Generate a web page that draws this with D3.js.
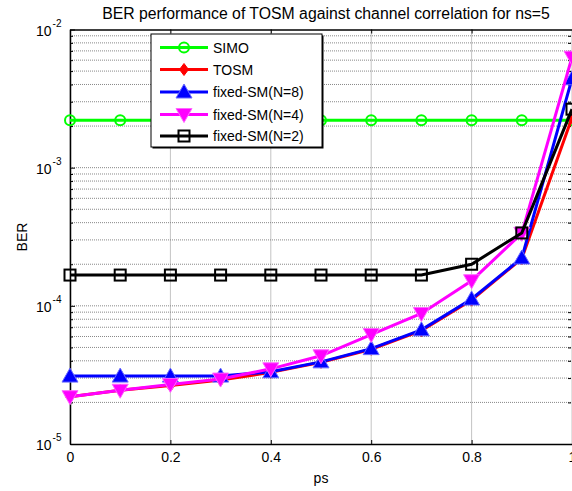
<!DOCTYPE html>
<html><head><meta charset="utf-8">
<script src="https://cdn.jsdelivr.net/npm/d3@7"></script>
<style>body{margin:0;background:#fff}svg{display:block;font-family:"Liberation Sans",Arial,sans-serif}</style>
</head><body><svg id="c" width="572" height="491"></svg>
<script>
const ps = [0,0.1,0.2,0.3,0.4,0.5,0.6,0.7,0.8,0.9,1.0];
const simo = [2.2e-3,2.2e-3,2.2e-3,2.2e-3,2.2e-3,2.2e-3,2.2e-3,2.2e-3,2.2e-3,2.2e-3,2.2e-3];
const tosm = [2.2e-5,2.45e-5,2.65e-5,2.9e-5,3.3e-5,3.9e-5,4.85e-5,6.6e-5,1.1e-4,2.2e-4,2.3e-3];
const fixedN8 = [3.1e-5,3.1e-5,3.1e-5,3.1e-5,3.33e-5,3.93e-5,4.9e-5,6.7e-5,1.12e-4,2.22e-4,4.4e-3];
const fixedN4 = [2.2e-5,2.45e-5,2.7e-5,2.95e-5,3.5e-5,4.35e-5,6.2e-5,8.8e-5,1.52e-4,3.35e-4,6.3e-3];
const fixedN2 = [1.67e-4,1.67e-4,1.67e-4,1.67e-4,1.67e-4,1.67e-4,1.67e-4,1.67e-4,2.0e-4,3.37e-4,2.65e-3];
const xTicks = [0,0.2,0.4,0.6,0.8,1];
const xTickLabels = ["0","0.2","0.4","0.6","0.8","1"];
const yExps = [-2,-3,-4,-5];
const seriesNames = ["SIMO","TOSM","fixed-SM(N=8)","fixed-SM(N=4)","fixed-SM(N=2)"];
const seriesData = [simo,tosm,fixedN8,fixedN4,fixedN2];
const seriesColors = ["#00ff00","#ff0000","#0000ff","#ff00ff","#000000"];
const seriesMarkers = ["circle","diamond","triangleUp","triangleDown","square"];

const L=70, R=572, T=29.5, B=444;
const svg = d3.select("#c");
const x = d3.scaleLinear().domain([0,1]).range([L,R]);
const y = d3.scaleLog().domain([1e-5,1e-2]).range([B,T]);

// grid
const g = svg.append("g");
xTicks.forEach(v=>{ g.append("line").attr("x1",x(v)).attr("x2",x(v)).attr("y1",T).attr("y2",B)
  .attr("stroke","#888").attr("stroke-width",1).attr("stroke-dasharray","1,1"); });
for(let e=-5;e<-2;e++){ for(let m=1;m<10;m++){ const v=m*Math.pow(10,e); if(m===1&&e===-5) continue;
  g.append("line").attr("x1",L).attr("x2",R).attr("y1",y(v)).attr("y2",y(v))
   .attr("stroke","#888").attr("stroke-width",1).attr("stroke-dasharray","1,1"); } }

// axes
const xAxis = d3.axisBottom(x).tickValues(xTicks).tickFormat((d,i)=>xTickLabels[i]).tickSizeInner(-4).tickSizeOuter(0).tickPadding(8);
const xg = svg.append("g").attr("transform",`translate(0,${B})`).call(xAxis);
xg.select(".domain").attr("stroke","#000").attr("stroke-width",1.5);
xg.selectAll("text").attr("font-size",14).attr("font-family","Liberation Sans, Arial").attr("fill","#000");
const xTop = d3.axisTop(x).tickValues(xTicks).tickFormat("").tickSizeInner(-4).tickSizeOuter(0);
const xtg = svg.append("g").attr("transform",`translate(0,${T})`).call(xTop);
xtg.select(".domain").attr("stroke","#000").attr("stroke-width",1.5);

const minorVals=[]; for(let e=-5;e<-2;e++) for(let m=2;m<10;m++) minorVals.push(m*Math.pow(10,e));
const yAxis = d3.axisLeft(y).tickValues(yExps.map(e=>Math.pow(10,e))).tickFormat("").tickSizeInner(-5).tickSizeOuter(0);
const yg = svg.append("g").attr("transform",`translate(${L},0)`).call(yAxis);
yg.select(".domain").attr("stroke","#000").attr("stroke-width",1.5);
svg.append("g").attr("transform",`translate(${L},0)`).call(d3.axisLeft(y).tickValues(minorVals).tickFormat("").tickSizeInner(-3).tickSizeOuter(0)).select(".domain").remove();
svg.append("g").attr("transform",`translate(${R-1},0)`).call(d3.axisRight(y).tickValues(minorVals).tickFormat("").tickSizeInner(-3).tickSizeOuter(0)).select(".domain").remove();

yExps.forEach(e=>{
  const t = svg.append("text").attr("x",L-34).attr("y",y(Math.pow(10,e))+6).attr("text-anchor","start")
    .attr("font-size",14).attr("fill","#000");
  t.append("tspan").text("10");
  t.append("tspan").attr("font-size",10).attr("dy",-9).attr("dx",1).text(String(e));
});

// titles
svg.append("text").attr("x",326).attr("y",19).attr("text-anchor","middle").attr("font-size",15.8).text("BER performance of TOSM against channel correlation for ns=5");
svg.append("text").attr("x",321).attr("y",483).attr("text-anchor","middle").attr("font-size",14).text("ps");
svg.append("text").attr("transform","translate(27,237) rotate(-90)").attr("text-anchor","middle").attr("font-size",14).text("BER");

// series
function drawMarker(sel, type, color, cx, cy){
  if(type==="circle") sel.append("circle").attr("cx",cx).attr("cy",cy).attr("r",5).attr("fill","none").attr("stroke",color).attr("stroke-width",2);
  else if(type==="square") sel.append("rect").attr("x",cx-5.5).attr("y",cy-5.5).attr("width",11).attr("height",11).attr("fill","none").attr("stroke",color).attr("stroke-width",2);
  else if(type==="diamond") sel.append("path").attr("d",`M${cx},${cy-6}L${cx+4.5},${cy}L${cx},${cy+6}L${cx-4.5},${cy}Z`).attr("fill",color).attr("stroke",color).attr("stroke-width",1);
  else if(type==="triangleUp") sel.append("path").attr("d",`M${cx},${cy-8}L${cx+8},${cy+6}L${cx-8},${cy+6}Z`).attr("fill",color).attr("stroke","#6a6aff").attr("stroke-width",1);
  else if(type==="triangleDown") sel.append("path").attr("d",`M${cx},${cy+8}L${cx+8},${cy-6}L${cx-8},${cy-6}Z`).attr("fill",color).attr("stroke","#ff66ff").attr("stroke-width",1);
}
const line = d3.line().x((d,i)=>x(ps[i])).y(d=>y(d));
seriesData.forEach((data,k)=>{
  const sg = svg.append("g");
  sg.append("path").datum(data).attr("d",line).attr("fill","none").attr("stroke",seriesColors[k]).attr("stroke-width",3);
  data.forEach((d,i)=>drawMarker(sg, seriesMarkers[k], seriesColors[k], x(ps[i]), y(d)));
});

// legend
const lg = svg.append("g");
const lx=151, ly=34, lw=171, lh=113;
lg.append("rect").attr("x",lx+1.5).attr("y",ly+1.5).attr("width",lw).attr("height",lh).attr("fill","#000");
lg.append("rect").attr("x",lx).attr("y",ly).attr("width",lw).attr("height",lh).attr("fill","#fff").attr("stroke","#000").attr("stroke-width",1);
const legY=[47.5,69.5,92,114.5,136];
seriesNames.forEach((n,k)=>{
  lg.append("line").attr("x1",160).attr("x2",208).attr("y1",legY[k]).attr("y2",legY[k]).attr("stroke",seriesColors[k]).attr("stroke-width",3);
  drawMarker(lg, seriesMarkers[k], seriesColors[k], 184, legY[k]);
  lg.append("text").attr("x",213).attr("y",legY[k]+5).attr("font-size",14).text(n);
});
</script></body></html>
